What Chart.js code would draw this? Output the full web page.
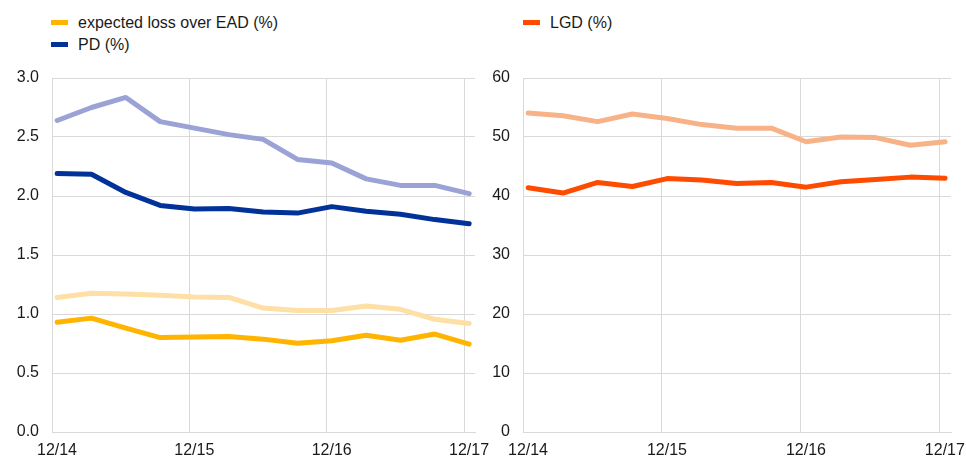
<!DOCTYPE html>
<html>
<head>
<meta charset="utf-8">
<script src="https://cdn.jsdelivr.net/npm/chart.js@4/dist/chart.umd.min.js"></script>
<style>
body{margin:0;width:966px;height:456px;position:relative;background:#fff;overflow:hidden;font-family:"Liberation Sans",Arial,sans-serif}
canvas{position:absolute}
.legend{position:absolute;top:12px;font-size:16px;color:#1a1a1a}
.legend div{height:22px;line-height:22px;white-space:nowrap}
.legend span{display:inline-block;width:17px;height:5px;margin-right:10px;vertical-align:middle;position:relative;top:-1px}
</style>
</head>
<body>
<div class="legend" id="legendLeft" style="left:51px"></div>
<div class="legend" id="legendRight" style="left:523px"></div>
<canvas id="left" width="495" height="396" style="left:0;top:60px"></canvas>
<canvas id="right" width="483" height="396" style="left:483px;top:60px"></canvas>
<script>
// quarters from 12/14 to 12/17
const quarters = ['12/14','03/15','06/15','09/15','12/15','03/16','06/16','09/16','12/16','03/17','06/17','09/17','12/17']
const tickLabels = ['12/14','12/15','12/16','12/17']

// left panel
const elOverEad = [0.93,0.965,0.88,0.80,0.805,0.81,0.787,0.753,0.773,0.82,0.778,0.83,0.745]
const elOverEadLight = [1.14,1.175,1.17,1.158,1.145,1.14,1.05,1.03,1.03,1.067,1.04,0.955,0.92]
const pd = [2.19,2.185,2.03,1.92,1.89,1.895,1.865,1.855,1.91,1.87,1.845,1.80,1.765]
const pdLight = [2.64,2.75,2.835,2.63,2.575,2.52,2.48,2.31,2.28,2.145,2.09,2.09,2.02]

// right panel
const lgd = [41.4,40.5,42.3,41.6,42.95,42.7,42.1,42.3,41.5,42.4,42.8,43.2,43.0]
const lgdLight = [54.06,53.6,52.6,53.9,53.15,52.1,51.5,51.5,49.2,50.0,49.9,48.6,49.2]

const font = {family: '"Liberation Sans", Arial, sans-serif', size: 16}
const gridColor = '#d9d9d9'

// точки по индексу квартала
const pts = arr => quarters.map((q, i) => ({x: i, y: arr[i]}))

const line = (label, arr, color, legend) => ({
    label, data: pts(arr), borderColor: color, backgroundColor: color,
    borderWidth: 5, pointRadius: 0, tension: 0,
    borderJoinStyle: 'round', borderCapStyle: 'round', legend
})

const mkLegend = (el, sets) => {
    sets.filter(s => s.legend).forEach(s => {
        const row = document.createElement('div')
        const sw = document.createElement('span')
        sw.style.background = s.borderColor
        row.append(sw, s.label)
        el.append(row)
    })
}

const mkChart = (id, sets, yMax, yStep, yDigits, yWidth, padRight) => {
    return new Chart(document.getElementById(id), {
        type: 'line',
        data: {datasets: sets},
        options: {
            responsive: false,
            animation: false,
            layout: {padding: {top: 18, right: padRight, left: 0, bottom: 0}},
            plugins: {legend: {display: false}, tooltip: {enabled: false}},
            scales: {
                x: {
                    type: 'linear', min: -0.15, max: 12.17,
                    afterBuildTicks: s => { s.ticks = tickLabels.map((t, i) => ({value: i * 4 - 0.15})) },
                    ticks: {
                        callback: (v, i) => tickLabels[i],
                        labelOffset: 5, padding: 9, maxRotation: 0, autoSkip: false,
                        color: '#1a1a1a', font
                    },
                    grid: {color: gridColor, drawTicks: false},
                    border: {color: gridColor},
                    afterFit: s => { s.height = 24; s.paddingLeft = 0; s.paddingRight = 0 }
                },
                y: {
                    min: 0, max: yMax,
                    ticks: {stepSize: yStep, padding: 13, color: '#1a1a1a', font,
                        callback: v => v.toFixed(yDigits)},
                    grid: {color: gridColor, drawTicks: false},
                    border: {color: gridColor},
                    afterFit: s => { s.width = yWidth; s.paddingTop = 0; s.paddingBottom = 0 }
                }
            }
        }
    })
}

const leftSets = [
    line('expected loss over EAD (%)', elOverEad, '#ffb400', true),
    line('PD (%)', pd, '#003299', true),
    line('', elOverEadLight, '#fedfa5', false),
    line('', pdLight, '#9aa2d6', false)
]
const rightSets = [
    line('LGD (%)', lgd, '#ff4b00', true),
    line('', lgdLight, '#f8b287', false)
]

mkLegend(document.getElementById('legendLeft'), leftSets)
mkLegend(document.getElementById('legendRight'), rightSets)

mkChart('left', leftSets, 3, 0.5, 1, 52, 20)
mkChart('right', rightSets, 60, 10, 0, 40, 15)
</script>
</body>
</html>
